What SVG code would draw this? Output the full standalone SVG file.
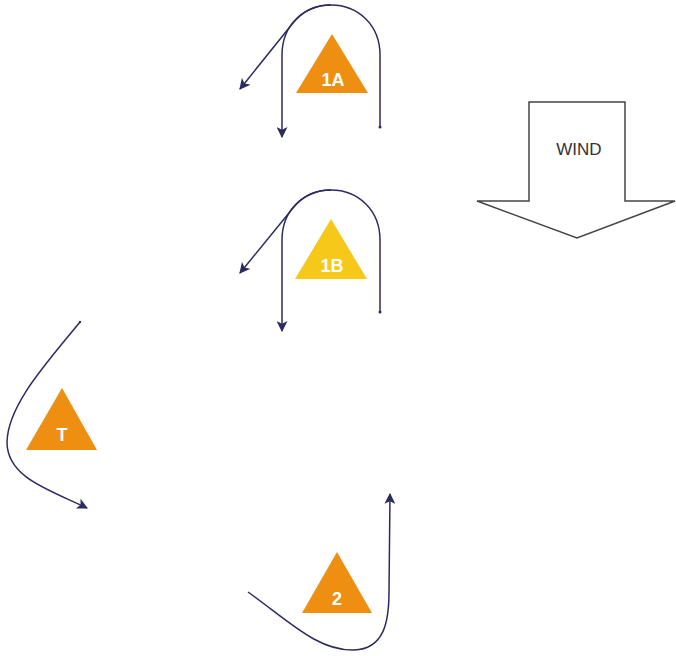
<svg xmlns="http://www.w3.org/2000/svg" width="676" height="656" viewBox="0 0 676 656">
<style>
.tri{fill:#EF8F12}
.yel{fill:#F6C81A}
.lbl{font-family:"Liberation Sans",Arial,sans-serif;font-weight:bold;font-size:18px;fill:#ffffff;text-anchor:middle}
.c{fill:none;stroke:#2C2B5E;stroke-width:1.5}
.wind{fill:#ffffff;stroke:#444;stroke-width:1.5}
.wt{font-family:"Liberation Sans",Arial,sans-serif;font-size:17px;fill:#333;text-anchor:middle}
</style>
<defs>
<marker id="ah2" viewBox="0 0 10 10" refX="9" refY="5" markerWidth="11" markerHeight="11" orient="auto" markerUnits="userSpaceOnUse">
<path d="M0,0 L10,5 L0,10 L2.5,5 z" fill="#2C2B5E"/>
</marker>
</defs>
<g id="connectors">
<path class="c" d="M380,127 L380,55 C380,25 358,5 331,5 C304,5 282,25 282,55 L282,137" marker-end="url(#ah2)"/>
<path class="c" d="M331,5 C315,5 302,12 293,23 L240,89" marker-end="url(#ah2)"/>
<path class="c" d="M380,312 L380,240 C380,210 358,190 331,190 C304,190 282,210 282,240 L282,331" marker-end="url(#ah2)"/>
<path class="c" d="M331,190 C315,190 302,197 293,208 L240,273" marker-end="url(#ah2)"/>
<path class="c" d="M80,322 C45,365 8,405 7,442 C7,478 50,490 87,508" marker-end="url(#ah2)"/>
<path class="c" d="M248,592 C290,622 318,651 354,650 C384,649 389,622 389,592 L390,494" marker-end="url(#ah2)"/>
<circle cx="380" cy="127" r="1.5" fill="#2C2B5E"/>
<circle cx="380" cy="312" r="1.5" fill="#2C2B5E"/>
<circle cx="80" cy="322" r="1.2" fill="#2C2B5E"/>
</g>
<g id="node-1A">
<polygon class="tri" points="332,34 368,93 296,93"/>
<text class="lbl" x="333" y="86">1A</text>
</g>
<g id="node-1B">
<polygon class="yel" points="331,219 367,279 295,279"/>
<text class="lbl" x="332" y="272">1B</text>
</g>
<g id="node-T">
<polygon class="tri" points="62,388 97,450 26,450"/>
<text class="lbl" x="62" y="441">T</text>
</g>
<g id="node-2">
<polygon class="tri" points="337,552 372,613 302,613"/>
<text class="lbl" x="337" y="605">2</text>
</g>
<g id="wind">
<polygon class="wind" points="529,102 625,102 625,201 675,201 577,238 477,201 529,201"/>
<text class="wt" x="579" y="155">WIND</text>
</g>
</svg>
